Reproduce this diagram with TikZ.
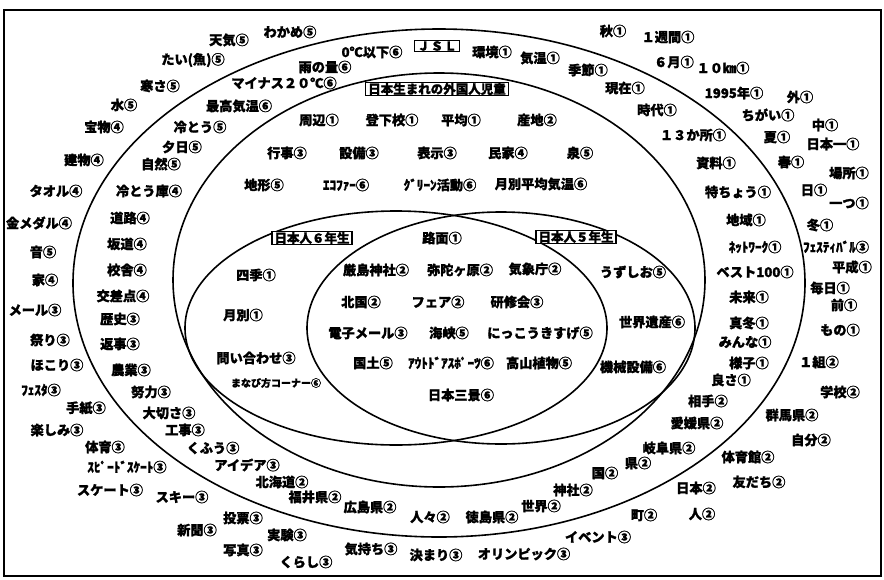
\documentclass[tikz,border=0pt]{standalone}
\usepackage{fontspec}
\newfontfamily\jpfont{Noto Sans CJK JP}
\tikzset{
  lbl/.style={font=\jpfont\bfseries\addfontfeature{FakeBold=1.2}\fontsize{13.2}{13.2}\selectfont, inner sep=0pt, anchor=center},
  small/.style={font=\jpfont\bfseries\addfontfeature{FakeBold=1.2}\fontsize{10}{10}\selectfont, inner sep=0pt},
  boxlbl/.style={draw, line width=1.2pt, font=\jpfont\bfseries\addfontfeature{FakeBold=1.2}\fontsize{12.5}{12.5}\selectfont, inner xsep=2.5pt, inner ysep=0.8pt, fill=white},
  ring/.style={line width=1.6pt},
}
\begin{document}
\begin{tikzpicture}[x=1pt,y=-1pt]
\useasboundingbox (0,0) rectangle (884,579);
\draw[line width=2pt] (4,10) rectangle (881,576);
% ellipses
\draw[ring] (439,283) ellipse [x radius=366, y radius=254];
\draw[ring] (439,280) ellipse [x radius=266, y radius=207];
\draw[ring] (396,328) ellipse [x radius=211, y radius=117];
\draw[ring] (501,328) ellipse [x radius=194, y radius=116];
% box labels
\node[boxlbl] (jsl) at (437,46) {Ｊ\hspace{1pt}Ｓ\hspace{1pt}Ｌ};
\node[boxlbl] (gaikoku) at (437,89) {日本生まれの外国人児童};
\node[boxlbl] (g6) at (312,238) {日本人６年生};
\node[boxlbl] (g5) at (576,237) {日本人５年生};
% outside outer ellipse
\node[lbl] (o1) at (229,40) {天気⑤};
\node[lbl] (o2) at (290,32) {わかめ⑤};
\node[lbl] (o3) at (193,60) {たい(魚)⑤};
\node[lbl] (o4) at (160,86) {寒さ⑤};
\node[lbl] (o5) at (124,105) {水⑤};
\node[lbl] (o6) at (104,127) {宝物④};
\node[lbl] (o7) at (84,160) {建物④};
\node[lbl] (o8) at (56,191) {タオル④};
\node[lbl] (o9) at (39,223) {金メダル④};
\node[lbl] (o10) at (43,252) {音⑤};
\node[lbl] (o11) at (45,280) {家④};
\node[lbl] (o12) at (35,310) {メール③};
\node[lbl] (o13) at (50,340) {祭り③};
\node[lbl] (o14) at (57,365) {ほこり③};
\node[lbl] (o15) at (41,390) {ﾌｪｽﾀ③};
\node[lbl] (o16) at (86,408) {手紙③};
\node[lbl] (o17) at (57,430) {楽しみ③};
\node[lbl] (o18) at (105,447) {体育③};
\node[lbl] (o19) at (127,467) {ｽﾋﾟｰﾄﾞｽｹｰﾄ③};
\node[lbl] (o20) at (110,490) {スケート③};
\node[lbl] (o21) at (182,497) {スキー③};
\node[lbl] (o22) at (197,530) {新聞③};
\node[lbl] (o23) at (243,518) {投票③};
\node[lbl] (o24) at (287,535) {実験③};
\node[lbl] (o25) at (243,550) {写真③};
\node[lbl] (o26) at (306,562) {くらし③};
\node[lbl] (o27) at (371,549) {気持ち③};
\node[lbl] (o28) at (436,555) {決まり③};
\node[lbl] (o29) at (524,554) {オリンピック③};
\node[lbl] (o30) at (598,537) {イベント③};
\node[lbl] (o31) at (644,515) {町②};
\node[lbl] (o32) at (702,514) {人②};
\node[lbl] (o33) at (696,488) {日本②};
\node[lbl] (o34) at (759,482) {友だち②};
\node[lbl] (o35) at (748,457) {体育館②};
\node[lbl] (o36) at (811,440) {自分②};
\node[lbl] (o37) at (792,415) {群馬県②};
\node[lbl] (o38) at (840,392) {学校②};
\node[lbl] (o39) at (819,362) {１組②};
\node[lbl] (o40) at (840,330) {もの①};
\node[lbl] (o41) at (844,305) {前①};
\node[lbl] (o42) at (830,288) {毎日①};
\node[lbl] (o43) at (852,267) {平成①};
\node[lbl] (o44) at (836,247) {ﾌｪｽﾃｨﾊﾞﾙ③};
\node[lbl] (o45) at (820,225) {冬①};
\node[lbl] (o46) at (849,203) {一つ①};
\node[lbl] (o47) at (814,190) {日①};
\node[lbl] (o48) at (849,173) {場所①};
\node[lbl] (o49) at (791,162) {春①};
\node[lbl] (o50) at (833,144) {日本一①};
\node[lbl] (o51) at (777,137) {夏①};
\node[lbl] (o52) at (825,125) {中①};
\node[lbl] (o53) at (768,115) {ちがい①};
\node[lbl] (o54) at (800,97) {外①};
\node[lbl] (o55) at (734,93) {1995年①};
\node[lbl] (o56) at (723,68) {１０㎞①};
\node[lbl] (o57) at (674,62) {６月①};
\node[lbl] (o58) at (668,37) {１週間①};
\node[lbl] (o59) at (613,31) {秋①};
% JSL ring
\node[lbl] (j1) at (372,52) {0℃以下⑥};
\node[lbl] (j2) at (325,67) {雨の量⑥};
\node[lbl] (j3) at (284,83) {マイナス２０℃⑥};
\node[lbl] (j4) at (239,106) {最高気温⑥};
\node[lbl] (j5) at (200,127) {冷とう⑤};
\node[lbl] (j6) at (182,147) {夕日⑤};
\node[lbl] (j7) at (161,164) {自然⑤};
\node[lbl] (j8) at (149,191) {冷とう庫④};
\node[lbl] (j9) at (130,218) {道路④};
\node[lbl] (j10) at (127,244) {坂道④};
\node[lbl] (j11) at (127,270) {校舎④};
\node[lbl] (j12) at (123,296) {交差点④};
\node[lbl] (j13) at (120,319) {歴史③};
\node[lbl] (j14) at (120,344) {返事③};
\node[lbl] (j15) at (131,370) {農業③};
\node[lbl] (j16) at (151,392) {努力③};
\node[lbl] (j17) at (169,413) {大切さ③};
\node[lbl] (j18) at (185,430) {工事③};
\node[lbl] (j19) at (213,448) {くふう③};
\node[lbl] (j20) at (247,465) {アイデア③};
\node[lbl] (j21) at (282,482) {北海道②};
\node[lbl] (j22) at (315,497) {福井県②};
\node[lbl] (j23) at (370,507) {広島県②};
\node[lbl] (j24) at (430,517) {人々②};
\node[lbl] (j25) at (492,517) {徳島県②};
\node[lbl] (j26) at (541,506) {世界②};
\node[lbl] (j27) at (573,490) {神社②};
\node[lbl] (j28) at (605,473) {国②};
\node[lbl] (j29) at (638,463) {県②};
\node[lbl] (j30) at (669,448) {岐阜県②};
\node[lbl] (j31) at (697,423) {愛媛県②};
\node[lbl] (j32) at (708,401) {相手②};
\node[lbl] (j33) at (731,380) {良さ①};
\node[lbl] (j34) at (749,363) {様子①};
\node[lbl] (j35) at (745,342) {みんな①};
\node[lbl] (j36) at (749,323) {真冬①};
\node[lbl] (j37) at (749,297) {未来①};
\node[lbl] (j38) at (755,272) {ベスト100①};
\node[lbl] (j39) at (755,247) {ﾈｯﾄﾜｰｸ①};
\node[lbl] (j40) at (746,220) {地域①};
\node[lbl] (j41) at (738,192) {特ちょう①};
\node[lbl] (j42) at (716,163) {資料①};
\node[lbl] (j43) at (693,135) {１３か所①};
\node[lbl] (j44) at (657,110) {時代①};
\node[lbl] (j45) at (625,88) {現在①};
\node[lbl] (j46) at (588,70) {季節①};
\node[lbl] (j47) at (540,58) {気温①};
\node[lbl] (j48) at (492,52) {環境①};
% foreign-born ring
\node[lbl] (f1) at (319,120) {周辺①};
\node[lbl] (f2) at (392,120) {登下校①};
\node[lbl] (f3) at (461,120) {平均①};
\node[lbl] (f4) at (537,120) {産地②};
\node[lbl] (f5) at (287,153) {行事③};
\node[lbl] (f6) at (359,153) {設備③};
\node[lbl] (f7) at (437,153) {表示③};
\node[lbl] (f8) at (508,153) {民家④};
\node[lbl] (f9) at (580,153) {泉⑤};
\node[lbl] (f10) at (264,185) {地形⑤};
\node[lbl] (f11) at (346,185) {ｴｺﾌｧｰ⑥};
\node[lbl] (f12) at (440,185) {ｸﾞﾘｰﾝ活動⑥};
\node[lbl] (f13) at (541,184) {月別平均気温⑥};
% 6th grade only
\node[lbl] (s1) at (256,275) {四季①};
\node[lbl] (s2) at (243,315) {月別①};
\node[lbl] (s3) at (256,358) {問い合わせ③};
\node[small] (s4) at (276,383) {まなび方コーナー⑥};
% both
\node[lbl] (b1) at (442,238) {路面①};
\node[lbl] (b2) at (376,270) {厳島神社②};
\node[lbl] (b3) at (460,270) {弥陀ヶ原②};
\node[lbl] (b4) at (535,269) {気象庁②};
\node[lbl] (b5) at (361,302) {北国②};
\node[lbl] (b6) at (438,302) {フェア②};
\node[lbl] (b7) at (517,302) {研修会③};
\node[lbl] (b8) at (368,333) {電子メール③};
\node[lbl] (b9) at (449,333) {海峡⑤};
\node[lbl] (b10) at (540,333) {にっこうきすげ⑤};
\node[lbl] (b11) at (373,363) {国土⑤};
\node[lbl] (b12) at (451,363) {ｱｳﾄﾄﾞｱｽﾎﾟｰﾂ⑥};
\node[lbl] (b13) at (539,363) {高山植物⑤};
\node[lbl] (b14) at (461,395) {日本三景⑥};
% 5th grade only
\node[lbl] (v1) at (633,272) {うずしお⑤};
\node[lbl] (v2) at (652,322) {世界遺産⑥};
\node[lbl] (v3) at (633,367) {機械設備⑥};
\end{tikzpicture}
\end{document}
